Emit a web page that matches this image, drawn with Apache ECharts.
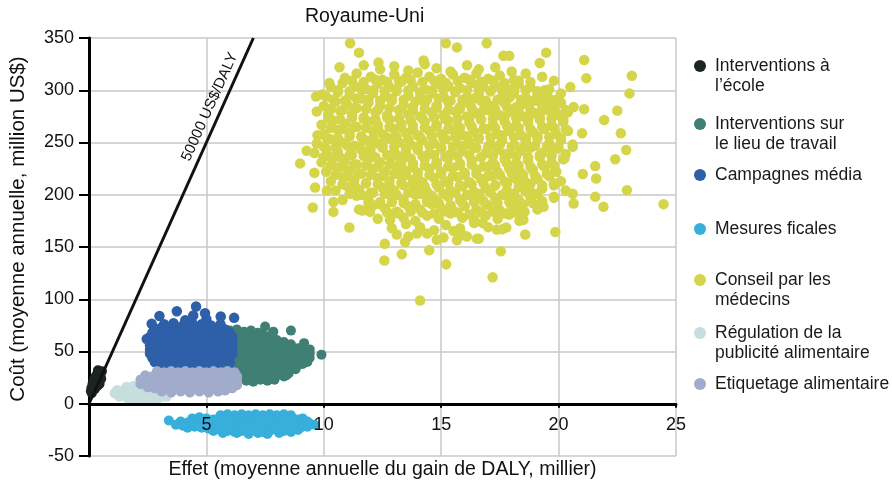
<!DOCTYPE html>
<html><head><meta charset="utf-8">
<script src="https://cdn.jsdelivr.net/npm/echarts/dist/echarts.min.js"></script>
<style>html,body{margin:0;padding:0;background:#fff}#c{width:892px;height:492px}</style>
</head><body><div id="c"></div>
<script>
const seriesNames = ['Interventions à l’école','Interventions sur le lieu de travail','Campagnes média','Mesures ficales','Conseil par les médecins','Régulation de la publicité alimentaire','Etiquetage alimentaire'];
const legendLabels = ['\nInterventions à\nl’école','\nInterventions sur\nle lieu de travail','Campagnes média','Mesures ficales','\nConseil par les\nmédecins','\nRégulation de la\npublicité alimentaire','Etiquetage alimentaire'];
const palette = ['#1c2523','#3f7f74','#2e60a9','#38aedb','#d5d54a','#c6dede','#a1abcb'];

const ecole = [[0.12,10],[0.18,13],[0.1,15],[0.22,16],[0.3,18],[0.15,19],[0.35,20],[0.25,21],[0.42,22],[0.2,23],[0.38,24],[0.3,25],[0.48,26],[0.4,27],[0.33,28],[0.5,29],[0.43,30],[0.55,31],[0.38,32],[0.28,26],[0.45,19],[0.08,12],[0.25,14],[0.52,24],[0.36,17]];

const travail = [
[6.0,70],[6.3,71],[6.6,69],[6.9,70],[7.2,68],
[5.9,66],[6.2,65],[6.5,67],[6.8,66],[7.1,65],[7.4,66],[7.7,65],
[5.9,62],[6.2,63],[6.5,61],[6.8,62],[7.1,63],[7.4,61],[7.7,62],[8.0,61],
[5.9,58],[6.2,57],[6.5,59],[6.8,58],[7.1,57],[7.4,59],[7.7,58],[8.0,57],[8.3,59],[8.6,57],
[5.9,54],[6.2,55],[6.5,53],[6.8,54],[7.1,55],[7.4,53],[7.7,54],[8.0,55],[8.3,53],[8.6,54],[8.9,53],
[5.9,50],[6.2,49],[6.5,51],[6.8,50],[7.1,49],[7.4,51],[7.7,50],[8.0,49],[8.3,51],[8.6,50],[8.9,49],[9.2,50],[9.4,48],
[5.9,46],[6.2,47],[6.5,45],[6.8,46],[7.1,47],[7.4,45],[7.7,46],[8.0,47],[8.3,45],[8.6,46],[8.9,45],[9.2,46],[9.4,44],
[5.9,42],[6.2,41],[6.5,43],[6.8,42],[7.1,41],[7.4,43],[7.7,42],[8.0,41],[8.3,43],[8.6,42],[8.9,41],[9.1,42],[9.3,40],
[5.9,38],[6.2,39],[6.5,37],[6.8,38],[7.1,39],[7.4,37],[7.7,38],[8.0,39],[8.3,37],[8.6,38],[8.9,37],[9.1,38],
[5.9,34],[6.2,33],[6.5,35],[6.8,34],[7.1,33],[7.4,35],[7.7,34],[8.0,33],[8.3,35],[8.6,34],[8.8,33],
[6.1,30],[6.4,31],[6.7,29],[7.0,30],[7.3,31],[7.6,29],[7.9,30],[8.2,31],[8.5,29],
[6.5,26],[6.8,25],[7.1,27],[7.4,26],[7.7,25],[8.0,27],[8.3,26],
[6.7,22],[7.0,21],[7.3,23],[7.6,22],[7.9,23],
[7.5,74],[7.85,69],[8.6,70],[9.16,58],[9.4,52],[9.9,47],[8.4,27],[8.1,29]];

const media = [
[3.2,76],[3.6,77],[4.0,75],[4.4,77],[4.8,76],[5.2,75],[5.6,76],
[2.8,72],[3.1,73],[3.4,71],[3.7,72],[4.0,73],[4.3,71],[4.6,72],[4.9,73],[5.2,71],[5.5,72],[5.8,71],
[2.7,68],[3.0,67],[3.3,69],[3.6,68],[3.9,67],[4.2,69],[4.5,68],[4.8,67],[5.1,69],[5.4,68],[5.7,67],[6.0,68],
[2.6,64],[2.9,65],[3.2,63],[3.5,64],[3.8,65],[4.1,63],[4.4,64],[4.7,65],[5.0,63],[5.3,64],[5.6,65],[5.9,63],[6.1,64],
[2.6,60],[2.9,59],[3.2,61],[3.5,60],[3.8,59],[4.1,61],[4.4,60],[4.7,59],[5.0,61],[5.3,60],[5.6,59],[5.9,61],[6.1,60],
[2.6,56],[2.9,57],[3.2,55],[3.5,56],[3.8,57],[4.1,55],[4.4,56],[4.7,57],[5.0,55],[5.3,56],[5.6,57],[5.9,55],[6.1,56],
[2.6,52],[2.9,51],[3.2,53],[3.5,52],[3.8,51],[4.1,53],[4.4,52],[4.7,51],[5.0,53],[5.3,52],[5.6,51],[5.9,53],[6.1,52],
[2.6,48],[2.9,49],[3.2,47],[3.5,48],[3.8,49],[4.1,47],[4.4,48],[4.7,49],[5.0,47],[5.3,48],[5.6,49],[5.9,47],[6.1,48],
[2.7,44],[3.0,43],[3.3,45],[3.6,44],[3.9,43],[4.2,45],[4.5,44],[4.8,43],[5.1,45],[5.4,44],[5.7,43],[6.0,45],
[2.8,40],[3.1,41],[3.4,39],[3.7,40],[4.0,41],[4.3,39],[4.6,40],[4.9,41],[5.2,39],[5.5,40],[5.8,41],[6.0,39],
[3.1,37],[3.5,36],[3.9,37],[4.3,36],[4.7,37],[5.1,36],[5.5,37],
[3.0,84],[3.74,88.6],[4.56,93],[4.94,86.7],[4.44,84.5],[5.61,83.5],[6.18,82.2],[2.67,76.5],[2.46,62],[5.0,81],[4.1,80]];

const fiscales = [
[5.6,-11],[5.9,-10],[6.2,-11],[6.5,-10],[6.8,-11],[7.1,-10],[7.4,-11],[7.7,-10],[8.0,-11],[8.3,-10],[8.6,-11],
[4.4,-14],[4.7,-13],[5.0,-14],[5.3,-15],[5.6,-14],[5.9,-13],[6.2,-14],[6.5,-15],[6.8,-14],[7.1,-13],[7.4,-14],[7.7,-15],[8.0,-14],[8.3,-13],[8.6,-14],[8.9,-15],[9.1,-14],
[3.9,-17],[4.2,-18],[4.5,-17],[4.8,-16],[5.1,-17],[5.4,-18],[5.7,-17],[6.0,-16],[6.3,-17],[6.6,-18],[6.9,-17],[7.2,-16],[7.5,-17],[7.8,-18],[8.1,-17],[8.4,-16],[8.7,-17],[9.0,-18],[9.3,-17],
[3.7,-20],[4.0,-21],[4.3,-20],[4.6,-19],[4.9,-20],[5.2,-21],[5.5,-20],[5.8,-19],[6.1,-20],[6.4,-21],[6.7,-20],[7.0,-19],[7.3,-20],[7.6,-21],[7.9,-20],[8.2,-19],[8.5,-20],[8.8,-21],[9.1,-20],[9.4,-19],[9.6,-20],
[4.2,-23],[4.5,-22],[4.8,-23],[5.1,-24],[5.4,-23],[5.7,-22],[6.0,-23],[6.3,-24],[6.6,-23],[6.9,-22],[7.2,-23],[7.5,-24],[7.8,-23],[8.1,-22],[8.4,-23],[8.7,-24],[9.0,-23],[9.3,-22],
[5.3,-26],[5.6,-25],[5.9,-26],[6.2,-27],[6.5,-26],[6.8,-25],[7.1,-26],[7.4,-27],[7.7,-26],[8.0,-25],[8.3,-26],[8.6,-27],[8.9,-25],
[5.7,-28],[6.3,-28],[6.8,-29],[7.2,-28],[7.6,-29],[8.1,-28],
[3.4,-16]];

const medecins = [
[11.7,324],[12.4,320],[13.0,323],[13.6,319],[14.3,325],[14.8,321],[15.4,318],[16.1,324],[16.6,320],[17.3,322],[18.0,318],
[10.9,312],[11.4,316],[12.0,313],[12.5,310],[13.0,315],[13.5,312],[14.0,317],[14.5,313],[15.0,311],[15.5,315],[16.0,312],[16.5,316],[17.0,311],[17.5,314],[18.1,310],[18.6,316],[19.3,313],
[10.3,303],[10.8,307],[11.3,304],[11.8,301],[12.3,306],[12.8,303],[13.3,308],[13.8,304],[14.3,301],[14.8,306],[15.3,304],[15.8,302],[16.3,307],[16.8,303],[17.3,305],[17.8,301],[18.3,306],[18.8,303],[19.4,300],
[10.1,294],[10.6,298],[11.1,295],[11.6,292],[12.1,297],[12.6,294],[13.1,299],[13.6,295],[14.1,293],[14.6,297],[15.1,294],[15.6,298],[16.1,293],[16.6,296],[17.1,299],[17.6,294],[18.1,297],[18.6,293],[19.1,296],[19.6,292],[20.1,297],
[10.0,285],[10.5,289],[11.0,286],[11.4,283],[11.9,288],[12.4,285],[12.9,290],[13.4,286],[13.8,284],[14.3,288],[14.8,285],[15.3,289],[15.8,284],[16.2,287],[16.7,290],[17.2,285],[17.7,288],[18.2,284],[18.6,287],[19.1,290],[19.6,285],[20.1,288],
[10.2,276],[10.7,280],[11.2,277],[11.7,274],[12.2,279],[12.7,276],[13.2,281],[13.6,277],[14.1,275],[14.6,279],[15.1,276],[15.6,280],[16.1,275],[16.5,278],[17.0,281],[17.5,276],[18.0,279],[18.5,275],[19.0,278],[19.5,281],[20.0,276],[20.4,279],
[9.9,267],[10.4,271],[10.9,268],[11.4,265],[11.9,270],[12.3,267],[12.8,272],[13.3,268],[13.8,266],[14.3,270],[14.8,267],[15.3,271],[15.7,266],[16.2,269],[16.7,272],[17.2,267],[17.7,270],[18.2,266],[18.7,269],[19.2,272],[19.7,267],[20.2,270],
[10.0,258],[10.6,262],[11.1,259],[11.6,256],[12.1,261],[12.5,258],[13.0,263],[13.5,259],[14.0,257],[14.5,261],[15.0,258],[15.5,262],[15.9,257],[16.4,260],[16.9,263],[17.4,258],[17.9,261],[18.4,257],[18.9,260],[19.4,263],[19.9,258],[20.4,261],
[9.7,249],[10.3,253],[10.8,250],[11.3,247],[11.8,252],[12.3,249],[12.8,254],[13.2,250],[13.7,248],[14.2,252],[14.7,249],[15.2,253],[15.7,248],[16.2,251],[16.6,254],[17.1,249],[17.6,252],[18.1,248],[18.6,251],[19.1,254],[19.6,249],[20.1,252],[20.6,248],
[9.6,240],[10.1,244],[10.6,241],[11.1,238],[11.6,243],[12.0,240],[12.5,245],[13.0,241],[13.5,239],[14.0,243],[14.5,240],[15.0,244],[15.4,239],[15.9,242],[16.4,245],[16.9,240],[17.4,243],[17.9,239],[18.4,242],[18.8,245],[19.3,240],[19.8,243],[20.3,239],
[9.9,231],[10.4,235],[10.9,232],[11.4,229],[11.9,234],[12.4,231],[12.9,236],[13.3,232],[13.8,230],[14.3,234],[14.8,231],[15.3,235],[15.8,230],[16.3,233],[16.7,236],[17.2,231],[17.7,234],[18.2,230],[18.7,233],[19.2,236],[19.7,231],[20.2,234],
[10.1,222],[10.6,226],[11.1,223],[11.6,220],[12.1,225],[12.6,222],[13.1,227],[13.5,223],[14.0,221],[14.5,225],[15.0,222],[15.5,226],[16.0,221],[16.5,224],[17.0,227],[17.4,222],[17.9,225],[18.4,221],[18.9,224],[19.4,227],[19.9,222],
[10.3,213],[10.8,217],[11.3,214],[11.8,211],[12.3,216],[12.8,213],[13.3,218],[13.8,214],[14.2,212],[14.7,216],[15.2,213],[15.7,217],[16.2,212],[16.7,215],[17.2,218],[17.7,213],[18.1,216],[18.6,212],[19.1,215],[19.6,218],[20.1,213],
[10.5,204],[11.0,208],[11.5,205],[12.0,202],[12.5,207],[13.0,204],[13.4,209],[13.9,205],[14.4,203],[14.9,207],[15.4,204],[15.9,208],[16.4,203],[16.9,206],[17.3,209],[17.8,204],[18.3,207],[18.8,203],[19.3,206],[19.8,209],[20.3,204],
[10.8,195],[11.4,199],[11.9,196],[12.4,193],[12.9,198],[13.4,195],[13.9,200],[14.4,196],[14.8,194],[15.3,198],[15.8,195],[16.3,199],[16.8,194],[17.3,197],[17.8,200],[18.3,195],[18.8,198],[19.3,194],[19.8,197],
[11.5,186],[12.1,190],[12.6,187],[13.1,184],[13.6,189],[14.1,186],[14.6,191],[15.0,187],[15.5,185],[16.0,189],[16.5,186],[17.0,190],[17.5,185],[18.0,188],[18.5,191],[19.1,186],
[12.3,177],[12.9,181],[13.4,178],[13.9,175],[14.4,180],[14.9,177],[15.4,182],[15.9,178],[16.4,176],[16.9,180],[17.4,177],[17.9,181],[18.5,176],
[12.9,168],[13.5,172],[14.1,169],[14.7,166],[15.2,171],[15.8,168],[16.4,173],[17.0,169],[17.6,167],
[13.6,160],[14.4,163],[15.1,159],[15.9,162],[16.6,158],
[11.2,309],[11.7,308],[12.2,310],[12.7,308],[13.2,309],[13.7,310],[14.2,308],[14.7,309],[15.2,307],[15.7,309],[16.2,310],[16.7,308],[17.2,309],[17.7,307],[18.3,309],[18.8,308],
[10.6,300],[11.1,299],[11.6,301],[12.1,300],[12.6,299],[13.1,301],[13.6,300],[14.1,298],[14.6,300],[15.1,301],[15.6,299],[16.1,300],[16.6,301],[17.1,299],[17.6,300],[18.1,302],[18.6,300],[19.1,299],[19.6,301],
[10.4,291],[10.9,290],[11.4,292],[11.9,291],[12.4,290],[12.9,292],[13.4,291],[13.9,289],[14.4,291],[14.9,292],[15.4,290],[15.9,291],[16.4,292],[16.9,290],[17.4,291],[17.9,293],[18.4,291],[18.9,290],[19.4,292],[19.9,291],
[10.3,282],[10.8,281],[11.3,283],[11.8,282],[12.3,281],[12.8,283],[13.3,282],[13.8,280],[14.3,282],[14.8,283],[15.3,281],[15.8,282],[16.3,283],[16.8,281],[17.3,282],[17.8,284],[18.3,282],[18.8,281],[19.3,283],[19.8,282],[20.3,281],
[10.2,273],[10.7,272],[11.2,274],[11.7,273],[12.2,272],[12.7,274],[13.2,273],[13.7,271],[14.2,273],[14.7,274],[15.2,272],[15.7,273],[16.2,274],[16.7,272],[17.2,273],[17.7,275],[18.2,273],[18.7,272],[19.2,274],[19.7,273],[20.2,272],
[10.3,264],[10.8,263],[11.3,265],[11.8,264],[12.3,263],[12.8,265],[13.3,264],[13.8,262],[14.3,264],[14.8,265],[15.3,263],[15.8,264],[16.3,265],[16.8,263],[17.3,264],[17.8,266],[18.3,264],[18.8,263],[19.3,265],[19.8,264],[20.3,263],
[10.1,255],[10.6,254],[11.1,256],[11.6,255],[12.1,254],[12.6,256],[13.1,255],[13.6,253],[14.1,255],[14.6,256],[15.1,254],[15.6,255],[16.1,256],[16.6,254],[17.1,255],[17.6,257],[18.1,255],[18.6,254],[19.1,256],[19.6,255],[20.1,254],
[10.0,246],[10.5,245],[11.0,247],[11.5,246],[12.0,245],[12.5,247],[13.0,246],[13.5,244],[14.0,246],[14.5,247],[15.0,245],[15.5,246],[16.0,247],[16.5,245],[17.0,246],[17.5,248],[18.0,246],[18.5,245],[19.0,247],[19.5,246],[20.0,245],
[10.2,237],[10.7,236],[11.2,238],[11.7,237],[12.2,236],[12.7,238],[13.2,237],[13.7,235],[14.2,237],[14.7,238],[15.2,236],[15.7,237],[16.2,238],[16.7,236],[17.2,237],[17.7,239],[18.2,237],[18.7,236],[19.2,238],[19.7,237],
[10.3,228],[10.8,227],[11.3,229],[11.8,228],[12.3,227],[12.8,229],[13.3,228],[13.8,226],[14.3,228],[14.8,229],[15.3,227],[15.8,228],[16.3,229],[16.8,227],[17.3,228],[17.8,230],[18.3,228],[18.8,227],[19.3,229],[19.8,228],
[10.5,219],[11.0,218],[11.5,220],[12.0,219],[12.5,218],[13.0,220],[13.5,219],[14.0,217],[14.5,219],[15.0,220],[15.5,218],[16.0,219],[16.5,220],[17.0,218],[17.5,219],[18.0,221],[18.5,219],[19.0,218],[19.5,220],
[10.8,210],[11.3,209],[11.8,211],[12.3,210],[12.8,209],[13.3,211],[13.8,210],[14.3,208],[14.8,210],[15.3,211],[15.8,209],[16.3,210],[16.8,211],[17.3,209],[17.8,210],[18.3,212],[18.8,210],[19.3,209],[19.8,211],
[11.1,201],[11.6,200],[12.1,202],[12.6,201],[13.1,200],[13.6,202],[14.1,201],[14.6,199],[15.1,201],[15.6,202],[16.1,200],[16.6,201],[17.1,202],[17.6,200],[18.1,201],[18.6,203],[19.1,201],
[11.9,192],[12.4,191],[12.9,193],[13.4,192],[13.9,191],[14.4,193],[14.9,192],[15.4,190],[15.9,192],[16.4,193],[16.9,191],[17.4,192],[17.9,193],[18.4,191],[18.9,192],
[12.7,183],[13.2,182],[13.7,184],[14.2,183],[14.7,182],[15.2,184],[15.7,183],[16.2,181],[16.7,183],[17.2,184],[17.7,182],[18.2,183],
[11.12,345],[11.5,336],[15.2,345],[16.94,345],[15.67,341],[19.47,336],[21.09,329],[21.18,311.6],[23.12,313.8],[23.02,297],[22.5,280.5],[21.94,271.6],[22.65,258.8],[22.88,242.8],[22.41,233.9],[22.91,204.4],[24.47,191],[21.91,188.4],[21.56,198],[21.6,215.6],[21.03,219.8],[21.56,227.4],[20.64,191.6],[19.86,164.4],[18.58,162],[17.54,146],[17.19,121],[15.21,133.4],[14.1,98.8],[12.58,137],[13.32,143],[12.6,153],[14.49,146.8],[11.09,168.6],[9.53,187.8],[8.99,230],[9.27,242],[9.63,207],[9.6,221],[9.73,257],[9.7,279.6],[9.67,294],[9.92,296],[10.24,307],[10.67,322],[12.33,326.6],[14.25,328.5],[17.65,333],[17.9,333],[19.2,326],[19.8,309],[20.5,303],[20.64,284],[21.09,281.8],[21.0,258.8],[20.6,246],[20.25,234.8],[20.6,201],[19.8,198],[19.36,188.4],[18.55,183.6],[18.33,175],[17.77,168.6],[17.37,166.7],[16.77,173],[16.52,158],[16.09,160],[15.67,156.4],[15.52,165.4],[14.81,157],[13.96,162.8],[13.46,154.8],[13.11,162],[12.82,175.6],[12.7,183.6],[11.97,183.6],[11.65,185],[10.41,183.6],[10.41,193],[10.13,204],[9.98,236]];

const regulation = [
[1.6,16],[1.9,17],[2.2,16],[2.5,16],
[1.2,13],[1.5,13],[1.8,12],[2.1,13],[2.4,13],[2.7,12],[3.0,13],
[1.1,10],[1.4,10],[1.7,9],[2.0,10],[2.3,10],[2.6,9],[2.9,10],[3.2,10],
[1.3,7],[1.6,7],[1.9,6],[2.2,7],[2.5,7],[2.8,6],[3.1,7],[3.3,7],
[1.7,4],[2.0,4],[2.3,4],[2.6,4],[2.9,4]];

const etiquetage = [
[2.9,31],[3.2,30],[3.5,31],[3.8,30],[4.1,31],[4.4,30],[4.7,31],[5.0,30],[5.3,31],[5.6,30],[5.9,31],[6.2,30],
[2.4,27],[2.7,26],[3.0,27],[3.3,28],[3.6,26],[3.9,27],[4.2,28],[4.5,26],[4.8,27],[5.1,28],[5.4,26],[5.7,27],[6.0,28],[6.3,26],
[2.2,23],[2.5,22],[2.8,24],[3.1,23],[3.4,22],[3.7,24],[4.0,23],[4.3,22],[4.6,24],[4.9,23],[5.2,22],[5.5,24],[5.8,23],[6.1,22],[6.3,23],
[2.2,19],[2.5,20],[2.8,18],[3.1,19],[3.4,20],[3.7,18],[4.0,19],[4.3,20],[4.6,18],[4.9,19],[5.2,20],[5.5,18],[5.8,19],[6.1,20],[6.3,18],
[2.5,16],[2.8,15],[3.1,14],[3.4,15],[3.7,16],[4.0,14],[4.3,15],[4.6,16],[4.9,14],[5.2,15],[5.5,16],[5.8,14],[6.1,15],
[3.1,12],[3.5,11],[3.9,12],[4.3,11],[4.7,12],[5.1,11],[5.5,12],[5.8,13]];

const seuil = [[0,0],[7,350]];
const seuilLabel = '50000 US$/DALY';
const allSeries = [ecole, travail, media, fiscales, medecins, regulation, etiquetage];

const FONT = '"Liberation Sans", Arial, sans-serif';
const chart = echarts.init(document.getElementById('c'), null, {renderer:'canvas'});
const legendTops = [36, 94, 165, 219, 250, 303, 374];
const symbolSizes = [10, 10, 10.5, 10, 10.5, 10.5, 10.5];

const option = {
  animation: false,
  backgroundColor: '#fff',
  textStyle: {fontFamily: FONT},
  title: {text: 'Royaume-Uni', left: 305, top: 7, padding: 0,
    textStyle: {fontFamily: FONT, fontSize: 19.5, fontWeight: 'normal', color: '#111'}},
  grid: {left: 89, right: 216, top: 38, bottom: 36, containLabel: false, outerBoundsMode: 'none'},
  legend: seriesNames.map((n, i) => ({
    data: [n], orient: 'vertical', left: 694, top: legendTops[i], padding: 0,
    icon: 'circle', itemWidth: 12, itemHeight: 12, selectedMode: false,
    formatter: () => legendLabels[i],
    textStyle: {fontFamily: FONT, fontSize: 17.5, lineHeight: 20, color: '#1a1a1a', padding: [0,0,0,4]}
  })),
  xAxis: [
    {type: 'value', min: 0, max: 25, interval: 5, z: 0,
     axisLine: {show: false, onZero: false}, axisTick: {show: false}, axisLabel: {show: false},
     splitLine: {show: true, lineStyle: {color: '#c9c9c9', width: 1.5}}},
    {type: 'value', min: 0, max: 25, interval: 5, position: 'bottom', z: 10, offset: 0,
     axisLine: {show: true, onZero: false, lineStyle: {color: '#000', width: 3}},
     axisTick: {show: true, length: 4, lineStyle: {color: '#000', width: 2}},
     axisLabel: {show: true, fontFamily: FONT, fontSize: 18, color: '#111', margin: 12,
       formatter: v => v === 0 ? '' : String(v)},
     splitLine: {show: false},
     name: 'Effet (moyenne annuelle du gain de DALY, millier)', nameLocation: 'middle', nameGap: 56,
     nameMoveOverlap: false,
     nameTextStyle: {fontFamily: FONT, fontSize: 19.5, color: '#111'}}
  ],
  yAxis: {type: 'value', min: -50, max: 350, interval: 50,
    axisLine: {show: true, onZero: false, lineStyle: {color: '#000', width: 3}},
    axisTick: {show: true, length: 10, lineStyle: {color: '#000', width: 2}},
    axisLabel: {fontFamily: FONT, fontSize: 18, color: '#111', margin: 15, padding: [0,0,10,0]},
    splitLine: {show: true, lineStyle: {color: '#c9c9c9', width: 1.5}},
    name: 'Coût (moyenne annuelle, million US$)', nameLocation: 'middle', nameGap: 60,
    nameMoveOverlap: false,
    nameTextStyle: {fontFamily: FONT, fontSize: 20.5, color: '#111', padding: [0,0,0,36]}},
  series: allSeries.map((d, i) => {
    const s = {
      name: seriesNames[i], type: 'scatter', data: d, xAxisIndex: 0,
      symbol: 'circle', symbolSize: symbolSizes[i],
      itemStyle: {color: palette[i], opacity: 1},
      emphasis: {disabled: true}, silent: true
    };
    if (i === 0) {
      s.markLine = {
        silent: true, symbol: ['none', 'none'], animation: false,
        lineStyle: {color: '#111', width: 3, type: 'solid'},
        label: {show: true, formatter: seuilLabel, position: 'insideEndTop', distance: [22, 4],
          fontFamily: FONT, fontSize: 15, color: '#111'},
        emphasis: {disabled: true},
        data: [[{coord: seuil[0]}, {coord: seuil[1]}]]
      };
    }
    return s;
  })
};
chart.setOption(option);
// place the labelled x axis on the y = 0 line (ECharts keeps labels at the grid edge otherwise)
const zeroPx = chart.convertToPixel({yAxisIndex: 0}, 0);
const minPx = chart.convertToPixel({yAxisIndex: 0}, -50);
chart.setOption({xAxis: [{}, {offset: zeroPx - minPx}]});
</script></body></html>
